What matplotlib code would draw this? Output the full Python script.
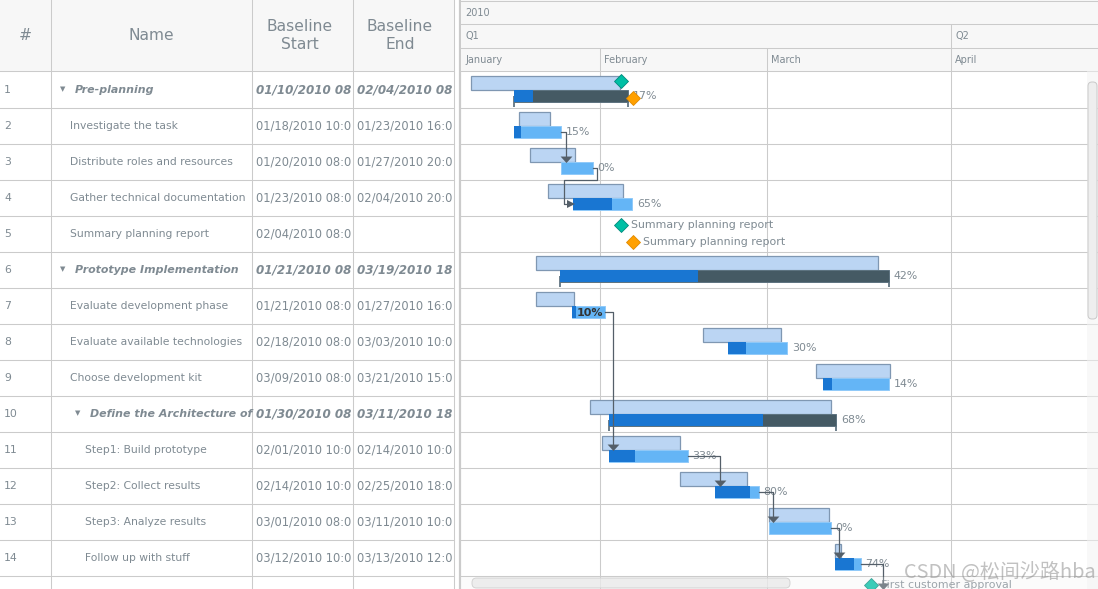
from datetime import datetime

import matplotlib
matplotlib.use('Agg')
import matplotlib.dates as mdates
from matplotlib import pyplot as plt
from matplotlib.patches import FancyBboxPatch, Rectangle

# table
row_names = ['Pre-planning', 'Investigate the task', 'Distribute roles and resources',
             'Gather technical documentation', 'Summary planning report',
             'Prototype Implementation', 'Evaluate development phase',
             'Evaluate available technologies', 'Choose development kit',
             'Define the Architecture of', 'Step1: Build prototype',
             'Step2: Collect results', 'Step3: Analyze results', 'Follow up with stuff']
levels = [0, 1, 1, 1, 1, 0, 1, 1, 1, 1, 2, 2, 2, 2]
parents = [True, False, False, False, False, True, False, False, False, True,
           False, False, False, False]
baseline_start = ['01/10/2010 08:00', '01/18/2010 10:00', '01/20/2010 08:00', '01/23/2010 08:00',
                  '02/04/2010 08:00', '01/21/2010 08:00', '01/21/2010 08:00', '02/18/2010 08:00',
                  '03/09/2010 08:00', '01/30/2010 08:00', '02/01/2010 10:00', '02/14/2010 10:00',
                  '03/01/2010 08:00', '03/12/2010 10:00']
baseline_end = ['02/04/2010 08:00', '01/23/2010 16:00', '01/27/2010 20:00', '02/04/2010 20:00',
                '', '03/19/2010 18:00', '01/27/2010 16:00', '03/03/2010 10:00',
                '03/21/2010 15:00', '03/11/2010 18:00', '02/14/2010 10:00', '02/25/2010 18:00',
                '03/11/2010 10:00', '03/13/2010 12:00']

# actual bars
actual_start = ['01/17/2010 13:00', '01/17/2010 13:00', '01/25/2010 14:00', '01/27/2010 14:00',
                '', '01/25/2010 10:00', '01/27/2010 10:00', '02/22/2010 14:00',
                '03/10/2010 10:00', '02/02/2010 12:00', '02/02/2010 12:00', '02/20/2010 10:00',
                '03/01/2010 08:00', '03/12/2010 10:00']
actual_end = ['02/05/2010 18:00', '01/25/2010 14:00', '01/30/2010 21:00', '02/06/2010 12:00',
              '', '03/21/2010 13:00', '02/01/2010 20:00', '03/04/2010 12:00',
              '03/21/2010 14:00', '03/12/2010 17:00', '02/15/2010 19:00', '02/27/2010 17:00',
              '03/11/2010 19:00', '03/16/2010 19:00']
progress = [17, 15, 0, 65, None, 42, 10, 30, 14, 68, 33, 80, 0, 74]

# milestones (row, date, color, label)
milestone_rows = [0, 0, 4, 4, 14]
milestone_dates = ['02/04/2010 13:00', '02/06/2010 14:00', '02/04/2010 13:00',
                   '02/06/2010 14:00', '03/18/2010 12:00']
milestone_kinds = ['base', 'actual', 'base', 'actual', 'base']
milestone_labels = ['', '', 'Summary planning report', 'Summary planning report',
                    'First customer approval']

# timeline
month_names = ['January', 'February', 'March', 'April']
month_starts = ['01/01/2010 00:00', '02/01/2010 00:00', '03/01/2010 00:00', '04/01/2010 00:00']
quarter_names = ['Q1', 'Q2']
quarter_starts = ['01/01/2010 00:00', '04/01/2010 00:00']

# connectors: from row -> to row
links_from = [1, 2, 6, 10, 11, 12, 13]
links_to = [2, 3, 10, 11, 12, 13, 14]

TEXT = '#7f8a92'
GRID = '#cbcbcb'
HEAD = '#f7f7f7'
LINK = '#545f69'
W, H = 1098, 589
PX_DAY = 5.96
ROW_H = 36.0
ROW0 = 71.5
ARROW_DOWN = [(-1, 0.5), (1, 0.5), (0, -0.6)]


def num(s):
    return mdates.date2num(datetime.strptime(s, '%m/%d/%Y %H:%M'))


def row_y(px):
    return (px - ROW0) / ROW_H


fig = plt.figure(figsize=(W / 100, H / 100), dpi=100)
fig.patch.set_facecolor('white')

# left table, axes in pixels
tb = fig.add_axes([0, 0, 1, 1])
tb.set_xlim(0, W)
tb.set_ylim(H, 0)
tb.axis('off')
tb.add_patch(Rectangle((0, 0), 453.5, 70.5, fc=HEAD, ec='none'))
col_right = [50.5, 251.5, 352.5, 453.5]
lw = 0.75
for x in col_right:
    tb.plot([x, x], [0, H], color=GRID, lw=lw)
tb.plot([460, 460], [0, H], color=GRID, lw=1.6)
tb.plot([0, 453.5], [70.5, 70.5], color=GRID, lw=lw)
for i in range(len(row_names) + 1):
    y = ROW0 + ROW_H * (i + 1)
    tb.plot([0, 453.5], [y, y], color=GRID, lw=lw)

tb.text(25, 35.5, '#', color=TEXT, fontsize=11.2, ha='center', va='center')
tb.text(151, 35.5, 'Name', color=TEXT, fontsize=11.2, ha='center', va='center')
tb.text(300, 35.5, 'Baseline\nStart', color=TEXT, fontsize=11.2, ha='center', va='center',
        linespacing=1.25)
tb.text(400, 35.5, 'Baseline\nEnd', color=TEXT, fontsize=11.2, ha='center', va='center',
        linespacing=1.25)

for i, name in enumerate(row_names):
    y = ROW0 + ROW_H * i + 18.5
    tb.text(4, y, str(i + 1), color=TEXT, va='center', fontsize=7.8)
    # the cells cut the dates off, only this much of them shows
    if parents[i]:
        shown = 13
        date_style = {'fontsize': 8.6, 'fontweight': 'bold', 'fontstyle': 'italic'}
        tb.text(63 + 15 * levels[i], y - 0.8, '▼', color=TEXT, fontsize=5, ha='center', va='center')
        tb.text(75 + 15 * levels[i], y, name, color=TEXT, va='center', fontsize=7.9,
                fontweight='bold', fontstyle='italic')
    else:
        shown = 15
        date_style = {'fontsize': 8.3}
        tb.text(55 + 15 * levels[i], y, name, color=TEXT, va='center', fontsize=7.77)
    tb.text(256, y, baseline_start[i][:shown], color=TEXT, va='center', **date_style)
    if baseline_end[i]:
        tb.text(357, y, baseline_end[i][:shown], color=TEXT, va='center', **date_style)

# gantt, x axis in dates and y in rows
left = 461.0
ax = fig.add_axes([left / W, 0, 1 - left / W, 1])
feb1 = num(month_starts[1])
ax.set_xlim(feb1 + (left - 599.7) / PX_DAY, feb1 + (W - 599.7) / PX_DAY)
ax.set_ylim(row_y(H), row_y(0))
ax.axis('off')
ax.patch.set_alpha(0)

ax.axhspan(row_y(0), row_y(70.5), color=HEAD, lw=0, zorder=0)
for py in [0.5, 23.5, 47.5, 70.5]:
    ax.axhline(row_y(py), color=GRID, lw=lw, zorder=1)
for i in range(len(row_names) + 1):
    ax.axhline(i + 1, color=GRID, lw=lw, zorder=1)

tx_off = 4 / PX_DAY
ax.text(ax.get_xlim()[0] + tx_off, row_y(13), '2010', color=TEXT, fontsize=7, va='center')
for name, start in zip(quarter_names, quarter_starts):
    x = max(num(start), ax.get_xlim()[0])
    ax.text(x + tx_off, row_y(36), name, color=TEXT, fontsize=7, va='center')
    if num(start) > ax.get_xlim()[0]:
        ax.vlines(x, row_y(23.5), row_y(47.5), color=GRID, lw=lw, zorder=1)
for name, start in zip(month_names, month_starts):
    x = max(num(start), ax.get_xlim()[0])
    ax.text(x + tx_off, row_y(60), name, color=TEXT, fontsize=7, va='center')
    if num(start) > ax.get_xlim()[0]:
        ax.vlines(x, row_y(47.5), row_y(H), color=GRID, lw=lw, zorder=1)

BASE_TOP, BASE_H = 4.5 / ROW_H, 13.5 / ROW_H
ACT_TOP, ACT_H = 18 / ROW_H, 12.5 / ROW_H
for i in range(len(row_names)):
    if baseline_end[i]:
        s, e = num(baseline_start[i]), num(baseline_end[i])
        ax.barh(i + BASE_TOP + BASE_H / 2, e - s, BASE_H, left=s, color='#bbd5f3',
                edgecolor='#7f97b2', lw=0.9, zorder=3)
    if not actual_end[i]:
        continue
    s, e = num(actual_start[i]), num(actual_end[i])
    done = (e - s) * progress[i] / 100
    yc = i + ACT_TOP + ACT_H / 2
    if parents[i]:
        ax.barh(yc, e - s, ACT_H, left=s, color='#455a64', edgecolor='#5d7380', lw=0.7, zorder=4)
        ax.barh(yc, done, ACT_H, left=s, color='#1976d2', lw=0, zorder=5)
        for x in (s, e):
            ax.vlines(x, yc, yc + 11 / ROW_H, color='#6d7e8a', lw=1.4, zorder=3)
    else:
        ax.barh(yc, e - s, ACT_H, left=s, color='#64b5f6', edgecolor='#90caf9', lw=0.7, zorder=4)
        if done > 0:
            ax.barh(yc, done, ACT_H, left=s, color='#1976d2', lw=0, zorder=5)
    # row 7 has its label inside the bar
    if progress[i] == 10:
        ax.text(s + 4 / PX_DAY, yc + 1 / ROW_H, '10%', color='#333333', fontsize=8,
                fontweight='bold', va='center', zorder=9)
    else:
        ax.text(e + 4.5 / PX_DAY, yc + 0.5 / ROW_H, '%d%%' % progress[i], color=TEXT,
                fontsize=7.9, va='center', zorder=6)

# connectors
for a, b in zip(links_from, links_to):
    if a == 2:
        # wraps back to the left of the next bar
        x0 = num(actual_end[a])
        y0 = a + ACT_TOP + ACT_H / 2
        x1 = x0 + 4 / PX_DAY
        x2 = num(actual_start[b]) - 9 / PX_DAY
        y1 = b
        y2 = b + ACT_TOP + ACT_H / 2
        ax.plot([x0, x1, x1, x2, x2, num(actual_start[b]) - 4 / PX_DAY],
                [y0, y0, y1, y1, y2, y2], color=LINK, lw=0.9, zorder=7)
        ax.plot(num(actual_start[b]) - 2.5 / PX_DAY, y2, marker='>', ms=5.5, color=LINK, mew=0,
                zorder=7)
        continue
    x0 = num(actual_end[a])
    y0 = a + ACT_TOP + ACT_H / 2
    if b < len(actual_start) and actual_start[b]:
        x1 = num(actual_start[b]) + 4.5 / PX_DAY
        y1 = b + ACT_TOP - 2.5 / ROW_H
    else:
        x1 = num(milestone_dates[-1]) + 12 / PX_DAY
        y1 = b + 10 / ROW_H
    ax.plot([x0, x1, x1], [y0, y0, y1], color=LINK, lw=0.9, zorder=7)
    ax.plot(x1, y1, marker=ARROW_DOWN, ms=8.5, color=LINK, mew=0, zorder=7)

# milestones
for r, d, kind, label in zip(milestone_rows, milestone_dates, milestone_kinds, milestone_labels):
    x = num(d)
    if kind == 'base':
        y = r + 9.2 / ROW_H
        fc, ec = '#00bfa5', '#00897b'
    else:
        y = r + 26.2 / ROW_H
        fc, ec = '#ffa000', '#e08a00'
    ax.plot(x, y, marker='D', ms=6.9, mfc=fc, mec=ec, mew=0.6, zorder=8)
    if label:
        ax.text(x + 10.5 / PX_DAY, y, label, color=TEXT, fontsize=7.9, va='center', zorder=6)

# scrollbars and watermark on top
top = fig.add_axes([0, 0, 1, 1])
top.set_xlim(0, W)
top.set_ylim(H, 0)
top.axis('off')
top.patch.set_alpha(0)
top.add_patch(Rectangle((1087, 71), 11, 518, fc='#f3f3f3', ec='none', alpha=0.5))
top.add_patch(FancyBboxPatch((1088, 82), 9, 237, boxstyle='round,pad=0,rounding_size=4',
                             fc='#eeeeee', ec='#c9c9c9', lw=0.7))
top.add_patch(Rectangle((461, 577), 637, 12, fc='#f3f3f3', ec='none', alpha=0.25))
top.add_patch(FancyBboxPatch((472, 578), 318, 10, boxstyle='round,pad=0,rounding_size=4.5',
                             fc='#e9e9e9', ec='#c9c9c9', lw=0.7, alpha=0.75))
top.text(1096, 572, 'CSDN @松间沙路hba', color='#8f8f8f', alpha=0.55, fontsize=14.4,
         ha='right', va='center', family=['Noto Sans CJK SC', 'DejaVu Sans'])

fig.savefig('out.png', dpi=100)
